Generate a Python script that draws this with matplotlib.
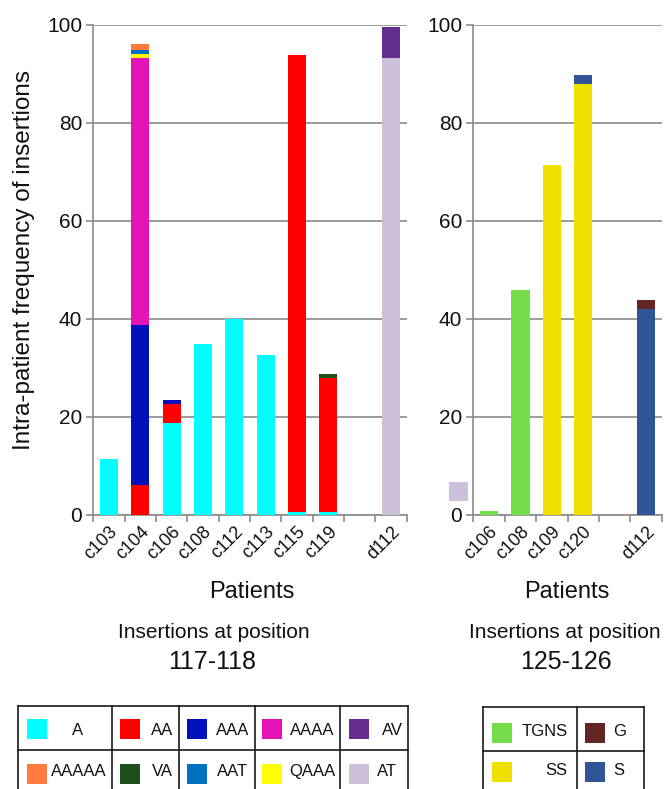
import matplotlib
matplotlib.use('Agg')
import matplotlib.pyplot as plt
import numpy as np
from matplotlib.patches import Rectangle
from matplotlib.lines import Line2D

plt.rcParams['font.family'] = ['Liberation Sans', 'DejaVu Sans']

W, H = 668, 789

# ---------------- data: insertions at position 117-118 ----------------
left_patients = ["c103", "c104", "c106", "c108", "c112", "c113", "c115", "c119", "", "d112"]
A     = [11.5, 0.0, 18.7, 34.8, 40.0, 32.6, 0.7, 0.7, 0.0, 0.0]
AA    = [0.0, 6.1, 4.0, 0.0, 0.0, 0.0, 93.1, 27.3, 0.0, 0.0]
AAA   = [0.0, 32.6, 0.8, 0.0, 0.0, 0.0, 0.0, 0.0, 0.0, 0.0]
AAAA  = [0.0, 54.5, 0.0, 0.0, 0.0, 0.0, 0.0, 0.0, 0.0, 0.0]
QAAA  = [0.0, 0.8, 0.0, 0.0, 0.0, 0.0, 0.0, 0.0, 0.0, 0.0]
AAT   = [0.0, 0.8, 0.0, 0.0, 0.0, 0.0, 0.0, 0.0, 0.0, 0.0]
AAAAA = [0.0, 1.2, 0.0, 0.0, 0.0, 0.0, 0.0, 0.0, 0.0, 0.0]
VA    = [0.0, 0.0, 0.0, 0.0, 0.0, 0.0, 0.0, 0.8, 0.0, 0.0]
AT    = [0.0, 0.0, 0.0, 0.0, 0.0, 0.0, 0.0, 0.0, 0.0, 93.1]
AV    = [0.0, 0.0, 0.0, 0.0, 0.0, 0.0, 0.0, 0.0, 0.0, 6.5]

left_series = [("A", A), ("AA", AA), ("AAA", AAA), ("AAAA", AAAA), ("QAAA", QAAA),
               ("AAT", AAT), ("AAAAA", AAAAA), ("VA", VA), ("AT", AT), ("AV", AV)]

# ---------------- data: insertions at position 125-126 ----------------
right_patients = ["c106", "c108", "c109", "c120", "", "d112"]
TGNS = [0.8, 45.8, 0.0, 0.0, 0.0, 0.0]
SS   = [0.0, 0.0, 71.4, 87.8, 0.0, 0.0]
S    = [0.0, 0.0, 0.0, 2.0, 0.0, 42.0]
G    = [0.0, 0.0, 0.0, 0.0, 0.0, 1.8]

right_series = [("TGNS", TGNS), ("SS", SS), ("S", S), ("G", G)]

colors = {
    "A": "#00FFFF", "AA": "#FF0000", "AAA": "#0010BA", "AAAA": "#E512B5",
    "AV": "#662D91", "AAAAA": "#FF7A3D", "VA": "#1B501B", "AAT": "#0070C0",
    "QAAA": "#FFFF00", "AT": "#CCC0DA",
    "TGNS": "#76DD4B", "G": "#632523", "SS": "#F0E000", "S": "#2F5597",
}

left_legend = [["A", "AA", "AAA", "AAAA", "AV"], ["AAAAA", "VA", "AAT", "QAAA", "AT"]]
right_legend = [["TGNS", "G"], ["SS", "S"]]

yticks = [0, 20, 40, 60, 80, 100]

# ---------------- figure ----------------
fig = plt.figure(figsize=(W / 100, H / 100), dpi=100)


def fx(x):
    return x / W


def fy(y):
    return 1 - y / H


GRID = "#8a8a8a"
TXT = "#111111"


def make_axes(left_px, right_px, patients, series):
    ax = fig.add_axes([fx(left_px), fy(515), (right_px - left_px) / W, (515 - 24.6) / H])
    x = np.arange(len(patients))
    bottom = np.zeros(len(patients))
    for name, vals in series:
        v = np.array(vals, dtype=float)
        ax.bar(x, v, width=0.58, bottom=bottom, color=colors[name], zorder=3, linewidth=0)
        bottom += v
    ax.set_xlim(-0.5, len(patients) - 0.5)
    ax.set_ylim(0, 100)
    ax.set_yticks(yticks)
    ax.set_yticklabels([str(t) for t in yticks], fontsize=15, color=TXT)
    ax.yaxis.grid(True, color=GRID, linewidth=1.2, zorder=0)
    ax.set_axisbelow(True)
    for s in ["top", "right"]:
        ax.spines[s].set_visible(False)
    for s in ["left", "bottom"]:
        ax.spines[s].set_color(GRID)
        ax.spines[s].set_linewidth(1.2)
    ax.tick_params(axis="y", length=5, width=1.2, color=GRID, pad=3)
    ax.set_xticks(x)
    ax.set_xticklabels(patients, rotation=45, ha="right", va="top",
                       rotation_mode="anchor", fontsize=13, color=TXT)
    ax.tick_params(axis="x", which="major", length=0, pad=6)
    ax.set_xticks(np.arange(-0.5, len(patients), 1.0), minor=True)
    ax.tick_params(axis="x", which="minor", length=5, width=1.2, color=GRID)
    return ax


ax1 = make_axes(93.3, 406.7, left_patients, left_series)
ax2 = make_axes(473.3, 661.7, right_patients, right_series)

# axis titles and captions
fig.text(fx(24), fy(260), "Intra-patient frequency of insertions", rotation=90,
         ha="center", va="center", fontsize=17.5, color=TXT)
fig.text(fx(252), fy(592), "Patients", ha="center", va="center", fontsize=17, color=TXT)
fig.text(fx(567), fy(592), "Patients", ha="center", va="center", fontsize=17, color=TXT)
fig.text(fx(214), fy(632), "Insertions at position", ha="center", va="center", fontsize=15, color=TXT)
fig.text(fx(212), fy(662), "117-118", ha="center", va="center", fontsize=18, color=TXT)
fig.text(fx(565), fy(632), "Insertions at position", ha="center", va="center", fontsize=15, color=TXT)
fig.text(fx(566), fy(662), "125-126", ha="center", va="center", fontsize=18, color=TXT)

# stray swatch next to the right axis
fig.add_artist(Rectangle((fx(449.3), fy(500.7)), 19 / W, 18.4 / H,
                         transform=fig.transFigure, color=colors["AT"], linewidth=0))


# ---------------- legend tables ----------------
def hline(x0, x1, y):
    fig.add_artist(Line2D([fx(x0), fx(x1)], [fy(y), fy(y)], color="#1a1a1a", linewidth=1.2,
                          transform=fig.transFigure))


def vline(x, y0, y1):
    fig.add_artist(Line2D([fx(x), fx(x)], [fy(y0), fy(y1)], color="#1a1a1a", linewidth=1.2,
                          transform=fig.transFigure))


def table(cols, rows, labels, patch_x, text_x, patch_y, text_y):
    for y in rows:
        hline(cols[0], cols[-1], y)
    for x in cols:
        vline(x, rows[0], rows[-1])
    for r, row in enumerate(labels):
        for c, name in enumerate(row):
            fig.add_artist(Rectangle((fx(patch_x[c]), fy(patch_y[r] + 20)), 20 / W, 20 / H,
                                     transform=fig.transFigure, color=colors[name], linewidth=0))
            fig.text(fx(text_x[r][c]), fy(text_y[r]), name, ha="center", va="center",
                     fontsize=12, color=TXT)


table([18.3, 111.6, 179.0, 254.8, 339.6, 408.2], [706, 750, 794], left_legend,
      [27.0, 120.0, 186.6, 262.0, 348.5],
      [[77.7, 161.7, 233.0, 312.0, 392.0], [79.2, 162.0, 233.0, 312.0, 386.6]],
      [719, 764], [730.7, 771.7])

table([483.3, 576.7, 644.0], [706.7, 750.7, 794.7], right_legend,
      [492.0, 584.6],
      [[545.0, 620.0], [556.0, 619.0]],
      [722.7, 761.7], [731.7, 770.7])

fig.savefig("out.png", dpi=100)
